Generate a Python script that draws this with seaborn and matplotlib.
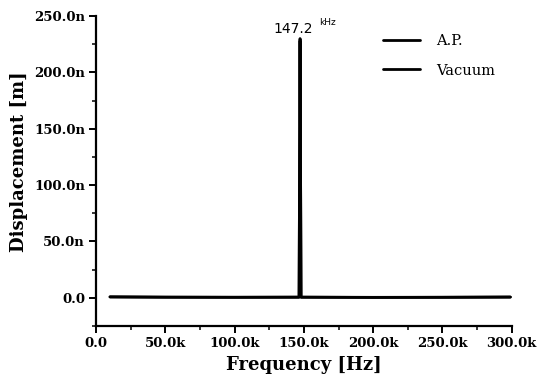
import matplotlib
matplotlib.use("Agg")
import matplotlib.pyplot as plt
import seaborn as sns
import pandas as pd
from matplotlib.ticker import FuncFormatter, MultipleLocator

# Data (Hz, m)
freq_ap = [10000, 50000, 100000, 146500, 147200, 147900, 200000, 250000, 299000]
disp_ap = [0.8e-9, 0.5e-9, 0.4e-9, 0.5e-9, 230e-9, 0.5e-9, 0.3e-9, 0.4e-9, 0.6e-9]
freq_vac = [10000, 50000, 100000, 146500, 147200, 147900, 200000, 250000, 299000]
disp_vac = [0.6e-9, 0.4e-9, 0.3e-9, 0.4e-9, 228e-9, 0.4e-9, 0.2e-9, 0.3e-9, 0.5e-9]
peak_label = "147.2"

sns.set_style("ticks")
plt.rcParams["font.family"] = ["DejaVu Serif"]
plt.rcParams["text.color"] = "black"
plt.rcParams["axes.labelcolor"] = "black"
plt.rcParams["xtick.color"] = "black"
plt.rcParams["ytick.color"] = "black"

df = pd.concat([
    pd.DataFrame({"Frequency": freq_ap, "Displacement": disp_ap, "Series": "A.P."}),
    pd.DataFrame({"Frequency": freq_vac, "Displacement": disp_vac, "Series": "Vacuum"}),
])

fig = plt.figure(figsize=(5.37, 3.82), dpi=100)
ax = fig.add_axes([0.179, 0.147, 0.774, 0.811])
sns.lineplot(data=df, x="Frequency", y="Displacement", hue="Series",
             palette=["black", "black"], linewidth=2.0, ax=ax, estimator=None, sort=False)

ax.set_xlim(0, 300000)
ax.set_ylim(-25e-9, 250e-9)
ax.xaxis.set_major_locator(MultipleLocator(50000))
ax.xaxis.set_minor_locator(MultipleLocator(25000))
ax.yaxis.set_major_locator(MultipleLocator(50e-9))
ax.yaxis.set_minor_locator(MultipleLocator(25e-9))
ax.xaxis.set_major_formatter(FuncFormatter(lambda v, p: "0.0" if v == 0 else f"{v/1000:.1f}k"))
ax.yaxis.set_major_formatter(FuncFormatter(lambda v, p: "0.0" if abs(v) < 1e-12 else f"{v*1e9:.1f}n"))

for s in ["top", "right"]:
    ax.spines[s].set_visible(False)
for s in ["left", "bottom"]:
    ax.spines[s].set_linewidth(1.6)
    ax.spines[s].set_color("black")
ax.tick_params(which="major", direction="out", length=5, width=1.4, labelsize=9.5, pad=3)
ax.tick_params(which="minor", direction="out", length=3, width=1.1)
for lbl in ax.get_xticklabels() + ax.get_yticklabels():
    lbl.set_fontweight("bold")

ax.set_xlabel("Frequency [Hz]", fontsize=13, fontweight="bold", labelpad=4)
ax.set_ylabel("Displacement [m]", fontsize=13, fontweight="bold")
ax.yaxis.set_label_coords(-0.165, 0.53)

ax.annotate(peak_label, xy=(147200, 232e-9), xytext=(-5, 0.5), textcoords="offset points",
            ha="center", va="bottom", fontsize=10, family="DejaVu Sans")
ax.annotate("kHz", xy=(147200, 232e-9), xytext=(14, 6.5), textcoords="offset points",
            ha="left", va="bottom", fontsize=6.5, family="DejaVu Sans")

leg = ax.legend(frameon=False, loc="upper left", bbox_to_anchor=(0.675, 0.96),
                fontsize=10.5, handlelength=2.6, handletextpad=1.1, labelspacing=1.05,
                title=None, borderaxespad=0)

fig.savefig("out.png", dpi=100)
